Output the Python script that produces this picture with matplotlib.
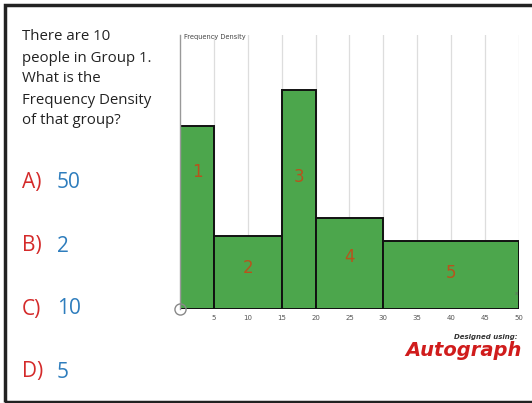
import matplotlib.pyplot as plt
from matplotlib.patches import Rectangle

# class boundaries and frequency densities
edges = [0, 5, 15, 20, 30, 50]
fd = [2.0, 0.8, 2.4, 1.0, 0.75]
group_labels = ["1", "2", "3", "4", "5"]
label_y = [1.5, 0.45, 1.45, 0.57, 0.39]
xticks = [5, 10, 15, 20, 25, 30, 35, 40, 45, 50]

question = ["There are 10", "people in Group 1.", "What is the",
            "Frequency Density", "of that group?"]
letters = ["A)", "B)", "C)", "D)"]
answers = ["50", "2", "10", "5"]

fig = plt.figure(figsize=(5.32, 4.03), dpi=100)
fig.patch.set_facecolor("white")

# outer frame
fig.add_artist(Rectangle((4.5 / 532, 1.5 / 403), 1.2, 397 / 403,
                         transform=fig.transFigure, fill=False,
                         edgecolor="#222222", linewidth=2.5))

ax = fig.add_axes([180 / 532, 1 - 309 / 403, 339 / 532, 274 / 403])
for x in xticks:
    ax.axvline(x, color="#dddddd", linewidth=0.9, zorder=0)

widths = [edges[i + 1] - edges[i] for i in range(len(fd))]
ax.bar(edges[:-1], fd, width=widths, align="edge", color="#4ca64c",
       edgecolor="#111111", linewidth=1.4, zorder=2)

for i, lab in enumerate(group_labels):
    xc = (edges[i] + edges[i + 1]) / 2
    ax.text(xc, label_y[i], lab, color="#b8531c", fontsize=12,
            family="DejaVu Sans",
            ha="center", va="center", zorder=3)

ax.set_xlim(0, 50)
ax.set_ylim(0, 3)
for s in ["top", "right", "bottom"]:
    ax.spines[s].set_visible(False)
ax.spines["left"].set_color("#999999")
ax.spines["left"].set_linewidth(1)
ax.set_yticks([])
ax.set_xticks(xticks)
ax.set_xticklabels([str(x) for x in xticks], fontsize=5, color="#555555")
ax.tick_params(axis="x", length=0, pad=4)
ax.text(0.6, 2.98, "Frequency Density", fontsize=4.8, color="#444444",
        va="center", ha="left")
ax.text(49.6, 0.15, "x", fontsize=4, color="#666666", ha="center")
ax.plot([0], [0], marker="o", markersize=8, markerfacecolor="none",
        markeredgecolor="#888888", markeredgewidth=1, clip_on=False,
        zorder=4)

# question text
for i, line in enumerate(question):
    fig.text(22 / 532, 1 - (37 + i * 21) / 403, line, fontsize=10.8,
             family="Open Sans", color="#222222", va="center", ha="left")

ans_y = [182, 246, 309, 372]
for i in range(len(letters)):
    fig.text(22 / 532, 1 - ans_y[i] / 403, letters[i], fontsize=15,
             family="Open Sans", color="#d42a2a", va="center", ha="left")
    fig.text(57 / 532, 1 - ans_y[i] / 403, answers[i], fontsize=15,
             family="Open Sans", color="#2e7dbd", va="center", ha="left")

fig.text(518 / 532, 1 - 337 / 403, "Designed using:", fontsize=5,
         style="italic", fontweight="bold", color="#333333", ha="right",
         va="center")
fig.text(522 / 532, 1 - 351 / 403, "Autograph", fontsize=14,
         style="italic", fontweight="bold", color="#d01c1c", ha="right",
         va="center")

fig.savefig("out.png", dpi=100)
